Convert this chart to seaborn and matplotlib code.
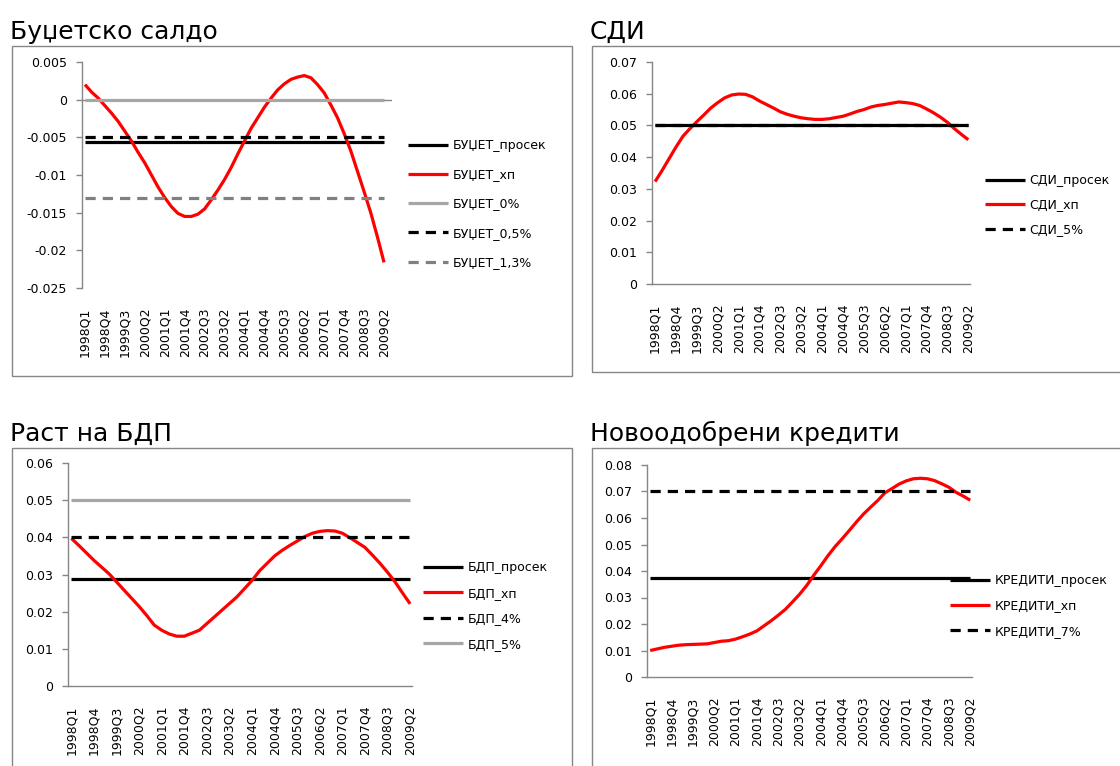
import numpy as np
import pandas as pd
import matplotlib
matplotlib.use("Agg")
import matplotlib.pyplot as plt
import seaborn as sns
from matplotlib.patches import Rectangle

sns.set_theme(style="white")
plt.rcParams['font.family'] = ['DejaVu Sans']

# ---- data -----------------------------------------------------------------
quarters = [f"{y}Q{q}" for y in range(1998, 2010) for q in range(1, 5)][:46]
tick_every = 3

budget_hp = [0.0020, 0.0010, 0.0002, -0.0008, -0.0018, -0.0029, -0.0042, -0.0055,
             -0.0070, -0.0084, -0.0100, -0.0116, -0.0130, -0.0142, -0.0151, -0.0155,
             -0.0155, -0.0152, -0.0145, -0.0133, -0.0120, -0.0106, -0.0090, -0.0072,
             -0.0055, -0.0038, -0.0024, -0.0010, 0.0002, 0.0013, 0.0021, 0.0027,
             0.0030, 0.0032, 0.0029, 0.0020, 0.0009, -0.0007, -0.0024, -0.0045,
             -0.0068, -0.0095, -0.0122, -0.0150, -0.0182, -0.0216]
budget_mean = -0.0056
budget_0 = 0.0
budget_05 = -0.005
budget_13 = -0.013

fdi_hp = [0.0323, 0.0358, 0.0395, 0.0432, 0.0466, 0.0490, 0.0512, 0.0533,
          0.0555, 0.0572, 0.0587, 0.0596, 0.0599, 0.0598, 0.0590, 0.0577,
          0.0566, 0.0555, 0.0543, 0.0535, 0.0529, 0.0524, 0.0521, 0.0519,
          0.0519, 0.0521, 0.0525, 0.0529, 0.0536, 0.0544, 0.0550, 0.0558,
          0.0563, 0.0566, 0.0570, 0.0574, 0.0572, 0.0569, 0.0563, 0.0552,
          0.0540, 0.0526, 0.0510, 0.0490, 0.0472, 0.0455]
fdi_mean = 0.0502
fdi_5 = 0.05

gdp_hp = [0.0397, 0.0378, 0.0358, 0.0338, 0.0320, 0.0302, 0.0280, 0.0258,
          0.0236, 0.0214, 0.0190, 0.0164, 0.0150, 0.0140, 0.0134, 0.0134,
          0.0142, 0.0150, 0.0168, 0.0186, 0.0204, 0.0222, 0.0240, 0.0262,
          0.0284, 0.0310, 0.0330, 0.0350, 0.0365, 0.0378, 0.0390, 0.0402,
          0.0411, 0.0416, 0.0418, 0.0417, 0.0411, 0.0399, 0.0386, 0.0373,
          0.0352, 0.0330, 0.0306, 0.0280, 0.0250, 0.0221]
gdp_mean = 0.0287
gdp_4 = 0.04
gdp_5 = 0.05

credit_hp = [0.0100, 0.0106, 0.0112, 0.0116, 0.0120, 0.0122, 0.0123, 0.0124,
             0.0125, 0.0130, 0.0135, 0.0137, 0.0143, 0.0152, 0.0162, 0.0174,
             0.0193, 0.0212, 0.0233, 0.0255, 0.0283, 0.0312, 0.0345, 0.0384,
             0.0420, 0.0458, 0.0492, 0.0522, 0.0553, 0.0585, 0.0615, 0.0641,
             0.0666, 0.0695, 0.0711, 0.0728, 0.0740, 0.0748, 0.0750, 0.0748,
             0.0741, 0.0729, 0.0716, 0.0697, 0.0683, 0.0667]
credit_mean = 0.0374
credit_7 = 0.07

# ---- styling --------------------------------------------------------------
W, H = 1120, 766
AXIS_GREY = "#868686"
RED = "#FF0000"
LIGHT = "#A6A6A6"
MID = "#808080"
LW = 2.3
DASH = (0, (3.2, 2.2))

fig = plt.figure(figsize=(W / 100, H / 100), dpi=100)


def px_rect(x0, y0, x1, y1):
    """Pixel box (top-left origin) -> figure fraction [l, b, w, h]."""
    return [x0 / W, 1 - y1 / H, (x1 - x0) / W, (y1 - y0) / H]


def panel(ax_box, frame_box, title, title_xy, series, ylim, yticks,
          xlim, legend_xy, spacing, zero_axis=False):
    fx0, fy0, fx1, fy1 = frame_box
    fig.patches.append(Rectangle((fx0 / W, 1 - fy1 / H), (fx1 - fx0) / W,
                                 (fy1 - fy0) / H, transform=fig.transFigure,
                                 fill=False, edgecolor=AXIS_GREY, lw=1.0))
    fig.text(title_xy[0] / W, 1 - title_xy[1] / H, title, fontsize=18,
             ha="left", va="baseline", color="black")

    ax = fig.add_axes(px_rect(*ax_box))
    ax.set_facecolor("none")
    x = np.arange(len(quarters))
    if zero_axis:
        ax.plot(xlim, [0, 0], color=AXIS_GREY, lw=1.0, zorder=0.5)
    for label, vals, color, ls in series:
        yv = vals if isinstance(vals, list) else [vals] * len(quarters)
        frame = pd.DataFrame({"q": x, "v": yv})
        sns.lineplot(data=frame, x="q", y="v", ax=ax, color=color, lw=LW,
                     linestyle=ls, label=label, solid_capstyle="butt",
                     dash_capstyle="butt")

    ax.set_xlim(*xlim)
    ax.set_ylim(*ylim)
    ax.set_yticks(yticks)
    ax.set_yticklabels(["%g" % round(v, 6) for v in yticks])
    ax.set_xticks(x[::tick_every])
    ax.set_xticklabels(quarters[::tick_every], rotation=90)
    ax.set_xlabel("")
    ax.set_ylabel("")
    for s in ["top", "right"]:
        ax.spines[s].set_visible(False)
    ax.spines["left"].set_color(AXIS_GREY)
    ax.spines["left"].set_linewidth(1.0)
    if zero_axis:
        ax.spines["bottom"].set_visible(False)
    else:
        ax.spines["bottom"].set_color(AXIS_GREY)
        ax.spines["bottom"].set_linewidth(1.0)
    ax.tick_params(axis="y", which="major", direction="out", length=4,
                   width=1.0, color=AXIS_GREY, pad=7, labelsize=9,
                   labelcolor="black", left=True)
    ax.tick_params(axis="x", which="major", length=0, pad=14, labelsize=9,
                   labelcolor="black")

    lx, ly = legend_xy
    leg = ax.legend(loc="center left", bbox_to_anchor=(lx / W, 1 - ly / H),
                    bbox_transform=fig.transFigure, frameon=False,
                    fontsize=9, handlelength=3.2, handletextpad=0.35,
                    labelspacing=spacing, borderpad=0, borderaxespad=0)
    for t in leg.get_texts():
        t.set_color("black")
    return ax


panel((82, 62, 392, 288), (12, 46, 572, 376), "Буџетско салдо", (10, 39),
      [("БУЏЕТ_просек", budget_mean, "black", "-"),
       ("БУЏЕТ_хп", budget_hp, RED, "-"),
       ("БУЏЕТ_0%", budget_0, LIGHT, "-"),
       ("БУЏЕТ_0,5%", budget_05, "black", DASH),
       ("БУЏЕТ_1,3%", budget_13, MID, DASH)],
      (-0.025, 0.005), [0.005, 0, -0.005, -0.01, -0.015, -0.02, -0.025],
      (-0.45, 46.2), (408, 204), 1.3, zero_axis=True)

panel((652, 62, 970, 284), (592, 46, 1130, 372), "СДИ", (590, 39),
      [("СДИ_просек", fdi_mean, "black", "-"),
       ("СДИ_хп", fdi_hp, RED, "-"),
       ("СДИ_5%", fdi_5, "black", DASH)],
      (0, 0.07), [0.07, 0.06, 0.05, 0.04, 0.03, 0.02, 0.01, 0],
      (-0.45, 45.25), (985, 205), 0.93)

panel((68, 463, 412, 686), (12, 448, 572, 780), "Раст на БДП", (10, 441),
      [("БДП_просек", gdp_mean, "black", "-"),
       ("БДП_хп", gdp_hp, RED, "-"),
       ("БДП_4%", gdp_4, "black", DASH),
       ("БДП_5%", gdp_5, LIGHT, "-")],
      (0, 0.06), [0.06, 0.05, 0.04, 0.03, 0.02, 0.01, 0],
      (-0.45, 45.25), (423, 606), 1.0)

panel((647, 465, 972, 677), (592, 448, 1130, 780), "Новоодобрени кредити", (590, 441),
      [("КРЕДИТИ_просек", credit_mean, "black", "-"),
       ("КРЕДИТИ_хп", credit_hp, RED, "-"),
       ("КРЕДИТИ_7%", credit_7, "black", DASH)],
      (0, 0.08), [0.08, 0.07, 0.06, 0.05, 0.04, 0.03, 0.02, 0.01, 0],
      (-0.45, 45.25), (950, 606), 0.98)

fig.savefig("out.png", dpi=100, facecolor="white")
